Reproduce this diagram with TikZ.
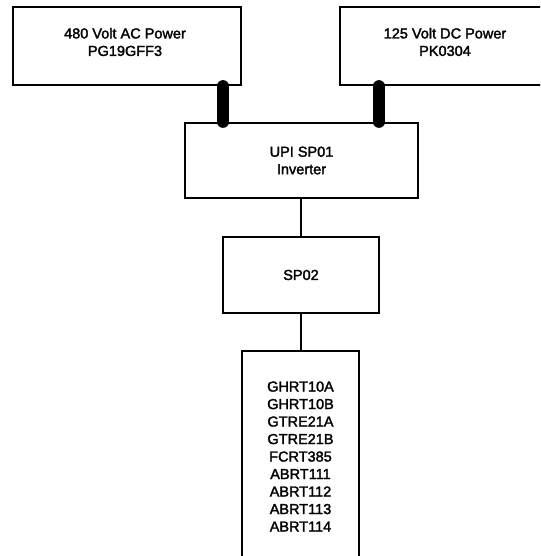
\documentclass[tikz,border=0pt]{standalone}
\usepackage{fontspec}
\setmainfont[FakeBold=2]{Liberation Sans}
\begin{document}
\begin{tikzpicture}[x=1pt,y=-1pt,
  box/.style={draw=black,line width=1.8pt,rectangle,inner sep=0pt,fill=none},
  txt/.style={align=center,font=\fontsize{14.5}{17.5}\selectfont,inner sep=0pt},
  thin/.style={line width=1.8pt},
  halo/.style={white,line width=19pt,line cap=butt},
  thick/.style={black,line width=11.5pt,line cap=round}]
\useasboundingbox (0,0) rectangle (540,556);
\clip (0,0) rectangle (540,556);
\fill[white] (0,0) rectangle (540,556);
% boxes
\node[box,minimum width=228pt,minimum height=78pt] (ac) at (127,46) {};
\node[txt] (actxt) at (125,42) {480 Volt AC Power\\PG19GFF3};
\node[box,minimum width=210pt,minimum height=78pt] (dc) at (445,46) {};
\node[txt] (dctxt) at (445,42) {125 Volt DC Power\\PK0304};
\node[box,minimum width=233pt,minimum height=75pt] (inv) at (301.5,160.5) {};
\node[txt] (invtxt) at (301.5,160.5) {UPI SP01\\Inverter};
\node[box,minimum width=156pt,minimum height=76pt,txt] (sp) at (301,275) {SP02};
\node[box,minimum width=117pt,minimum height=211pt,txt] (list) at (300.5,456.5)
  {GHRT10A\\GHRT10B\\GTRE21A\\GTRE21B\\FCRT385\\ABRT111\\ABRT112\\ABRT113\\ABRT114};
% thin connectors
\draw[thin] ([xshift=-0.5pt]inv.south) -- (sp.north);
\draw[thin] (sp.south) -- ([xshift=0.5pt]list.north);
% thick connectors
\draw[halo] ([xshift=96pt,yshift=-2pt]ac.south) -- ([xshift=-78.5pt,yshift=2pt]inv.north);
\draw[halo] ([xshift=-66pt,yshift=-2pt]dc.south) -- ([xshift=77.5pt,yshift=2pt]inv.north);
\draw[thick] ([xshift=96pt]ac.south) -- ([xshift=-78.5pt]inv.north);
\draw[thick] ([xshift=-66pt]dc.south) -- ([xshift=77.5pt]inv.north);
\end{tikzpicture}
\end{document}
